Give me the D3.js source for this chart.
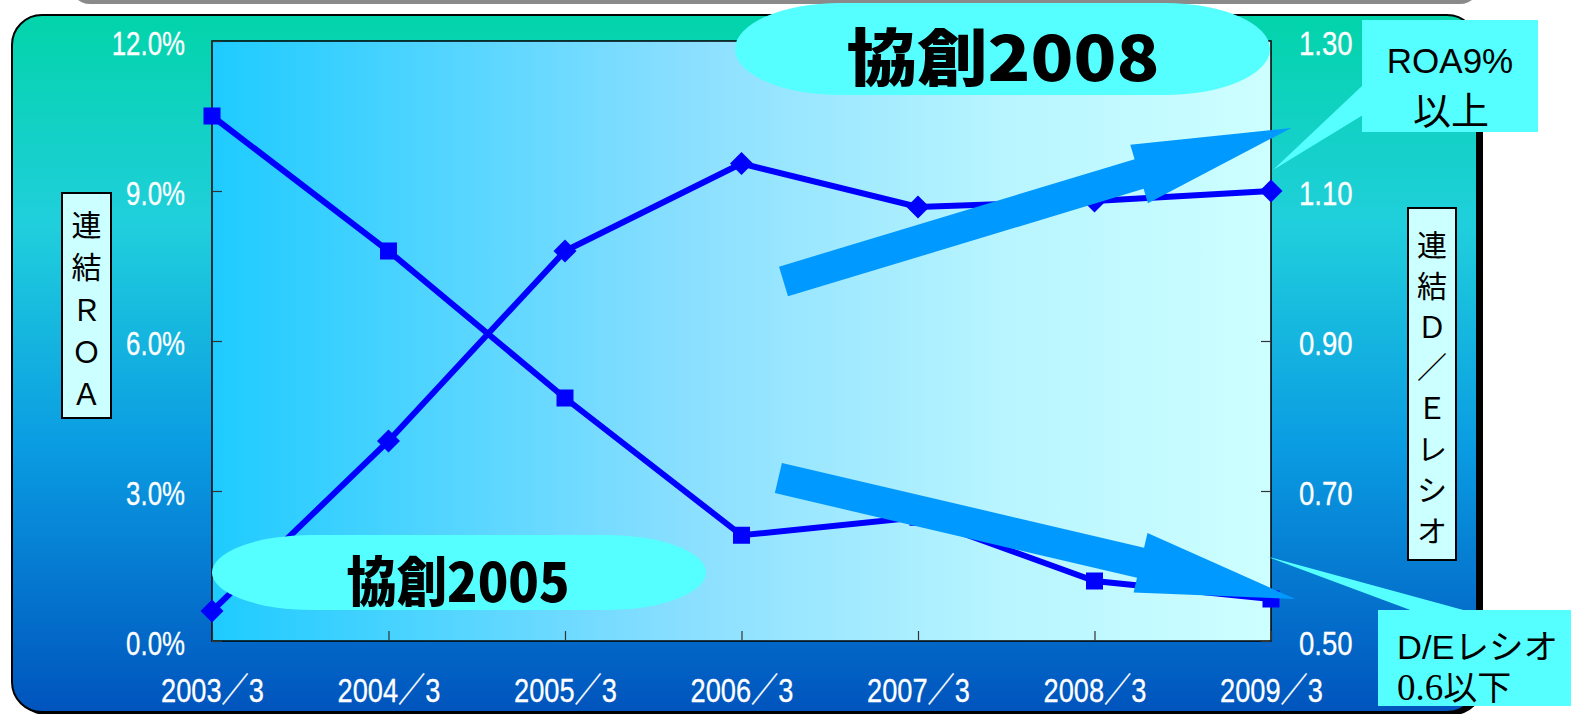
<!DOCTYPE html>
<html>
<head>
<meta charset="utf-8">
<script src="https://cdn.jsdelivr.net/npm/d3@7"></script>
<style>
  body { margin: 0; background: #fff; overflow: hidden; }
  svg { display: block; }
</style>
</head>
<body>
<svg id="chart"></svg>
<script>
// data
const categories = ['2003/3', '2004/3', '2005/3', '2006/3', '2007/3', '2008/3', '2009/3'];
const roaValues = [0.6, 4.0, 7.8, 9.55, 8.68, 8.8, 9.0];          // 連結ROA (%)
const deValues = [1.20, 1.02, 0.824, 0.641, 0.665, 0.58, 0.556];  // 連結D/Eレシオ
const roaTicks = [0, 3, 6, 9, 12];
const deTicks = [0.5, 0.7, 0.9, 1.1, 1.3];
const leftTitle = ['連', '結', 'Ｒ', 'Ｏ', 'Ａ'];
const rightTitle = ['連', '結', 'Ｄ', '／', 'Ｅ', 'レ', 'シ', 'オ'];
// trend arrows: [category index, ROA %] for tail and tip
const upArrow = { from: [3.238, 7.19], to: [6.115, 10.26] };
const downArrow = { from: [3.209, 3.26], to: [6.138, 0.84] };

const W = 1571, H = 714;
const plot = { left: 212, top: 41, right: 1271, bottom: 641 };
const tickFont = '"Liberation Sans", "Noto Sans CJK JP", sans-serif';

const svg = d3.select('#chart').attr('width', W).attr('height', H);
const defs = svg.append('defs');

const bgGrad = defs.append('linearGradient').attr('id', 'bg')
  .attr('x1', 0).attr('y1', 0).attr('x2', 0).attr('y2', 1);
[[0, '#02d4aa'], [0.3, '#20cfdc'], [0.62, '#0a9ce2'], [1, '#0054bd']].forEach(s =>
  bgGrad.append('stop').attr('offset', s[0]).attr('stop-color', s[1]));

const plotGrad = defs.append('linearGradient').attr('id', 'plotbg')
  .attr('x1', 0).attr('y1', 0).attr('x2', 1).attr('y2', 0);
[[0, '#1ecbff'], [0.45, '#8adfff'], [0.75, '#b8f5ff'], [1, '#cdffff']].forEach(s =>
  plotGrad.append('stop').attr('offset', s[0]).attr('stop-color', s[1]));

// gray slide header peeking at the top
svg.append('rect').attr('x', 70).attr('y', -40).attr('width', 1410).attr('height', 44)
  .attr('rx', 20).attr('fill', '#8a8a8a');

// outer panel with shadow
svg.append('rect').attr('x', 16).attr('y', 18).attr('width', 1467).attr('height', 697)
  .attr('rx', 30).attr('fill', '#000');
svg.append('rect').attr('x', 12).attr('y', 15).attr('width', 1465).attr('height', 697)
  .attr('rx', 30).attr('fill', 'url(#bg)').attr('stroke', '#000').attr('stroke-width', 2);

// plot area
svg.append('rect')
  .attr('x', plot.left).attr('y', plot.top)
  .attr('width', plot.right - plot.left).attr('height', plot.bottom - plot.top)
  .attr('fill', 'url(#plotbg)').attr('stroke', '#000').attr('stroke-width', 1.5);

const x = d3.scalePoint().domain(categories).range([plot.left, plot.right]);
const yL = d3.scaleLinear().domain([0, 12]).range([plot.bottom, plot.top]);
const yR = d3.scaleLinear().domain([0.5, 1.3]).range([plot.bottom, plot.top]);

function styleAxis(g) {
  g.select('.domain').remove();
  g.selectAll('.tick line').attr('stroke', '#333').attr('stroke-width', 1.2);
  g.selectAll('.tick text').attr('fill', '#fff')
    .attr('stroke', '#fff').attr('stroke-width', 0.3)
    .attr('font-family', tickFont).attr('font-size', 34);
}
// labels in the original use a condensed face
function condense(sel, k) {
  sel.each(function () {
    const w = this.getComputedTextLength();
    d3.select(this).attr('textLength', w * k).attr('lengthAdjust', 'spacingAndGlyphs');
  });
}

svg.append('g').attr('transform', `translate(${plot.left},0)`)
  .call(d3.axisLeft(yL).tickValues(roaTicks).tickSize(-10).tickPadding(27)
    .tickFormat(d => d.toFixed(1) + '%'))
  .call(styleAxis)
  .selectAll('.tick text').attr('dy', '0.4em').call(condense, 0.76);

svg.append('g').attr('transform', `translate(${plot.right},0)`)
  .call(d3.axisRight(yR).tickValues(deTicks).tickSize(-10).tickPadding(28)
    .tickFormat(d3.format('.2f')))
  .call(styleAxis)
  .selectAll('.tick text').attr('dy', '0.4em').call(condense, 0.81);

svg.append('g').attr('transform', `translate(0,${plot.bottom})`)
  .call(d3.axisBottom(x).tickSize(-10).tickPadding(37)
    .tickFormat(d => d.replace('/', '／')))
  .call(styleAxis)
  .selectAll('.tick text').attr('textLength', 103).attr('lengthAdjust', 'spacingAndGlyphs');

// series lines
const deLine = d3.line().x((d, i) => x(categories[i])).y(d => yR(d));
const roaLine = d3.line().x((d, i) => x(categories[i])).y(d => yL(d));

svg.append('path').datum(deValues).attr('d', deLine)
  .attr('fill', 'none').attr('stroke', '#0000ff').attr('stroke-width', 6);
svg.selectAll('.sq').data(deValues).enter().append('rect')
  .attr('x', (d, i) => x(categories[i]) - 8.5).attr('y', d => yR(d) - 8.5)
  .attr('width', 17).attr('height', 17).attr('fill', '#0000ff');

svg.append('path').datum(roaValues).attr('d', roaLine)
  .attr('fill', 'none').attr('stroke', '#0000ff').attr('stroke-width', 6);
svg.selectAll('.dia').data(roaValues).enter().append('path')
  .attr('d', (d, i) => {
    const cx = x(categories[i]), cy = yL(d), r = 11.5;
    return `M${cx},${cy - r}L${cx + r},${cy}L${cx},${cy + r}L${cx - r},${cy}Z`;
  })
  .attr('fill', '#0000ff');

// block arrows
function arrowPath(a) {
  const px = i => x(categories[0]) + i * x.step();
  const x0 = px(a.from[0]), y0 = yL(a.from[1]);
  const x1 = px(a.to[0]), y1 = yL(a.to[1]);
  const len = Math.hypot(x1 - x0, y1 - y0);
  const ux = (x1 - x0) / len, uy = (y1 - y0) / len;
  const nx = -uy, ny = ux;
  const shaft = 15.5, head = 30.5, headLen = 159;
  const bx = x1 - ux * headLen, by = y1 - uy * headLen;
  const pts = [
    [x0 + nx * shaft, y0 + ny * shaft],
    [bx + nx * shaft, by + ny * shaft],
    [bx + nx * head, by + ny * head],
    [x1, y1],
    [bx - nx * head, by - ny * head],
    [bx - nx * shaft, by - ny * shaft],
    [x0 - nx * shaft, y0 - ny * shaft]
  ];
  return 'M' + pts.map(p => p.join(',')).join('L') + 'Z';
}
[upArrow, downArrow].forEach(a =>
  svg.append('path').attr('d', arrowPath(a)).attr('fill', '#0099ff'));

// bubbles
svg.append('rect').attr('x', 735).attr('y', 3).attr('width', 535).attr('height', 92)
  .attr('rx', 105).attr('ry', 46).attr('fill', '#55ffff');
svg.append('text').attr('x', 1003).attr('y', 54)
  .attr('text-anchor', 'middle').attr('dominant-baseline', 'central')
  .attr('font-family', '"Noto Sans CJK JP", sans-serif').attr('font-weight', 900)
  .attr('font-size', 62).attr('textLength', 313).attr('lengthAdjust', 'spacingAndGlyphs')
  .text('協創2008');

svg.append('rect').attr('x', 212).attr('y', 535).attr('width', 494).attr('height', 75)
  .attr('rx', 100).attr('ry', 37.5).attr('fill', '#55ffff');
svg.append('text').attr('x', 458).attr('y', 578)
  .attr('text-anchor', 'middle').attr('dominant-baseline', 'central')
  .attr('font-family', '"Noto Sans CJK JP", sans-serif').attr('font-weight', 900)
  .attr('font-size', 54).attr('textLength', 223).attr('lengthAdjust', 'spacingAndGlyphs')
  .text('協創2005');

// callouts
svg.append('path').attr('d', 'M1363,85L1273,170L1363,115Z').attr('fill', '#55ffff');
svg.append('rect').attr('x', 1362).attr('y', 20).attr('width', 176).attr('height', 112)
  .attr('fill', '#55ffff');
const roaNote = svg.append('text').attr('text-anchor', 'middle')
  .attr('font-family', '"Liberation Sans", "Noto Sans CJK JP", sans-serif')
  .attr('fill', '#000');
roaNote.append('tspan').attr('x', 1450).attr('y', 73).attr('font-size', 35).text('ROA9%');
roaNote.append('tspan').attr('x', 1451).attr('y', 124).attr('font-size', 38).text('以上');

svg.append('path').attr('d', 'M1265,556L1413,611L1467,611Z').attr('fill', '#55ffff');
svg.append('rect').attr('x', 1378).attr('y', 610).attr('width', 200).attr('height', 96)
  .attr('fill', '#55ffff');
const deNote = svg.append('text')
  .attr('font-family', '"Liberation Sans", "Noto Sans CJK JP", sans-serif')
  .attr('font-size', 34).attr('fill', '#000');
deNote.append('tspan').attr('x', 1397).attr('y', 659).text('D/Eレシオ')
  .attr('textLength', 161).attr('lengthAdjust', 'spacingAndGlyphs');
const l2 = deNote.append('tspan').attr('x', 1397).attr('y', 700);
l2.append('tspan').attr('font-family', '"Liberation Serif", serif').attr('font-size', 37).text('0.6');
l2.append('tspan').text('以下');

// vertical axis titles
function vTitle(chars, bx, by, bw, bh, y0, step) {
  svg.append('rect').attr('x', bx).attr('y', by).attr('width', bw).attr('height', bh)
    .attr('fill', '#ccffff').attr('stroke', '#000').attr('stroke-width', 2);
  svg.selectAll(null).data(chars).enter().append('text')
    .attr('x', bx + bw / 2).attr('y', (d, i) => y0 + i * step)
    .attr('text-anchor', 'middle').attr('dominant-baseline', 'central')
    .attr('font-family', '"Noto Sans CJK JP", sans-serif').attr('font-size', 30)
    .attr('fill', '#000').text(d => d);
}
vTitle(leftTitle, 62, 193, 49, 225, 223, 42.3);
vTitle(rightTitle, 1408, 208, 48, 352, 243, 40.8);
</script>
</body>
</html>
